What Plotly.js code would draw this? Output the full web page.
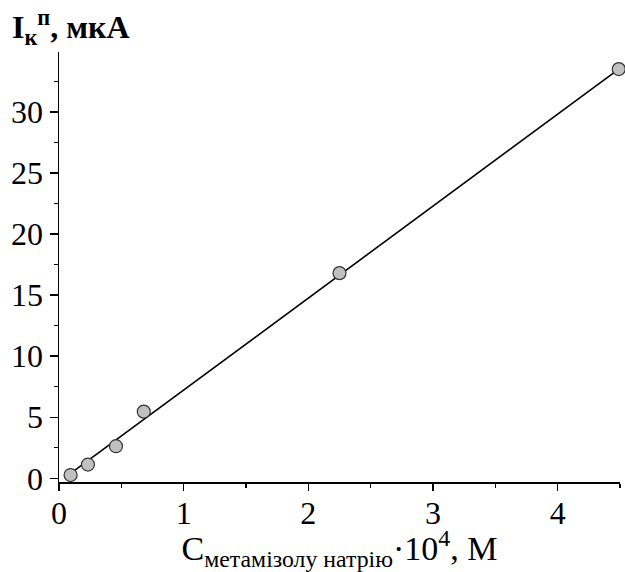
<!DOCTYPE html>
<html>
<head>
<meta charset="utf-8">
<script src="https://cdn.plot.ly/plotly-3.0.1.min.js"></script>
<style>html,body{margin:0;padding:0;background:#fff;}#chart{width:625px;height:572px;}</style>
</head>
<body>
<div id="chart"></div>
<script>
const concX = [0.093, 0.232, 0.457, 0.68, 2.25, 4.49];
const currentY = [0.27, 1.13, 2.63, 5.46, 16.8, 33.5];
const fitX = [0.093, 4.49];
const fitY = [0.4, 33.5];

const font = 'Liberation Serif';

const traces = [
  {x: fitX, y: fitY, mode: 'lines', type: 'scatter',
   line: {color: '#000', width: 1.6}, hoverinfo: 'skip', cliponaxis: false},
  {x: concX, y: currentY, mode: 'markers', type: 'scatter',
   marker: {size: 13, color: '#c0c0c0', line: {color: '#333', width: 1.2}},
   cliponaxis: false}
];

const layout = {
  width: 625, height: 572,
  margin: {l: 59, r: 5, t: 52, b: 90},
  paper_bgcolor: '#fff', plot_bgcolor: '#fff',
  showlegend: false,
  font: {family: font, color: '#000', size: 32},
  xaxis: {
    range: [0, 4.5], dtick: 1, tick0: 0,
    showgrid: false, zeroline: false,
    showline: true, linecolor: '#000', linewidth: 1.5,
    ticks: 'outside', ticklen: 7, tickwidth: 1.5, tickcolor: '#000',
    ticklabelstandoff: -5,
    minor: {dtick: 0.5, ticks: 'outside', ticklen: 4, tickwidth: 1.2, tickcolor: '#000', showgrid: false},
    tickfont: {family: font, size: 32, color: '#000'},
    title: {text: 'C<sub>метамізолу натрію</sub>·10<sup>4</sup>, M', font: {family: font, size: 34, color: '#000'}, standoff: 8}
  },
  yaxis: {
    range: [-0.3, 34.9], dtick: 5, tick0: 0,
    showgrid: false, zeroline: false,
    showline: true, linecolor: '#000', linewidth: 1.5,
    ticks: 'outside', ticklen: 8, tickwidth: 1.5, tickcolor: '#000',
    minor: {dtick: 2.5, ticks: 'outside', ticklen: 4, tickwidth: 1.2, tickcolor: '#000', showgrid: false},
    tickfont: {family: font, size: 32, color: '#000'}
  },
  annotations: [{
    text: '<b>I<sub>к</sub><sup>п</sup>, мкА</b>',
    xref: 'paper', yref: 'paper', x: -0.087, y: 1.0,
    xanchor: 'left', yanchor: 'bottom', showarrow: false,
    font: {family: font, size: 32, color: '#000'}
  }]
};

Plotly.newPlot('chart', traces, layout, {displayModeBar: false, staticPlot: true});
</script>
</body>
</html>
